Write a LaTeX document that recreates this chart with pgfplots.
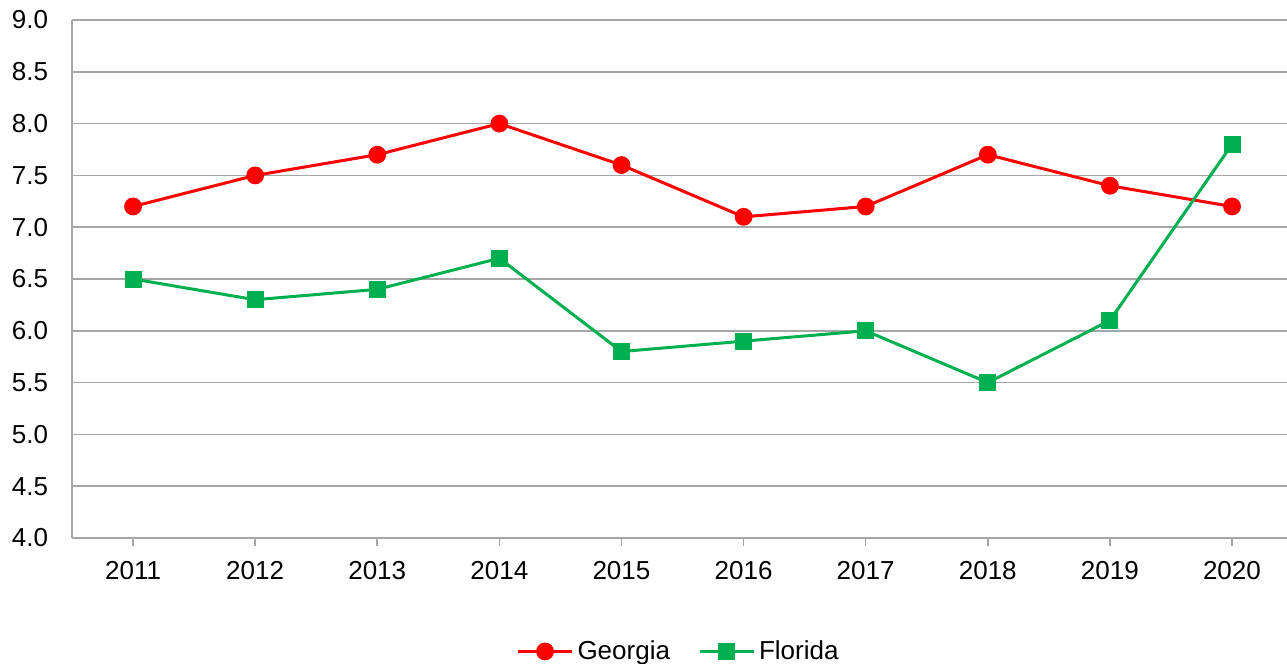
\documentclass[border=0pt]{standalone}
\usepackage{pgfplots}
\pgfplotsset{compat=1.18}
\usepackage{fontspec}
\setmainfont{Liberation Sans}
\definecolor{geo}{HTML}{FF0000}
\definecolor{flo}{HTML}{00B050}
\definecolor{gridc}{HTML}{A6A6A6}
\begin{document}
\begin{tikzpicture}
\begin{axis}[
  name=ax,
  scale only axis,
  width=607.5pt, height=259pt,
  xmin=2010.5, xmax=2020.45,
  ymin=4, ymax=9,
  xtick={2011,...,2020},
  ytick={4,4.5,...,9},
  xticklabel style={/pgf/number format/1000 sep={}},
  yticklabel style={/pgf/number format/fixed,/pgf/number format/fixed zerofill,/pgf/number format/precision=1},
  /pgf/number format/assume math mode=true,
  ymajorgrids, grid style={gridc, line width=0.8pt},
  axis x line*=bottom, axis y line*=left,
  axis line style={gridc, line width=0.8pt},
  x axis line style={-}, y axis line style={-},
  xtick style={gridc, line width=0.8pt},
  major tick length=4pt,
  tick align=outside,
  xtick pos=bottom,
  ytick style={draw=none},
  tick label style={font=\fontsize{13}{15}\selectfont, black},
  xticklabel shift=4pt,
  yticklabel shift=4.5pt,
  legend style={at={(0.5,-0.219)}, anchor=center, draw=none, font=\fontsize{13}{15}\selectfont, legend columns=2, /tikz/every even column/.append style={column sep=12pt}},
  legend image code/.code={\draw[#1] (0pt,0pt) -- (27pt,0pt); \draw[#1, only marks] plot coordinates {(13.5pt,0pt)};},
  clip=false,
]
\addplot[geo, line width=1.5pt, mark=*, mark size=3.7pt, mark options={solid, fill=geo, draw=geo}] coordinates {
(2011,7.2) (2012,7.5) (2013,7.7) (2014,8.0) (2015,7.6) (2016,7.1) (2017,7.2) (2018,7.7) (2019,7.4) (2020,7.2)};
\addlegendentry{Georgia}
\addplot[flo, line width=1.5pt, mark=square*, mark size=3.5pt, mark options={solid, fill=flo, draw=flo}] coordinates {
(2011,6.5) (2012,6.3) (2013,6.4) (2014,6.7) (2015,5.8) (2016,5.9) (2017,6.0) (2018,5.5) (2019,6.1) (2020,7.8)};
\addlegendentry{Florida}
\end{axis}
\pgfresetboundingbox
\path ([xshift=-36pt,yshift=-62.5pt]ax.south west) rectangle ([yshift=10pt]ax.north east);
\end{tikzpicture}
\end{document}
